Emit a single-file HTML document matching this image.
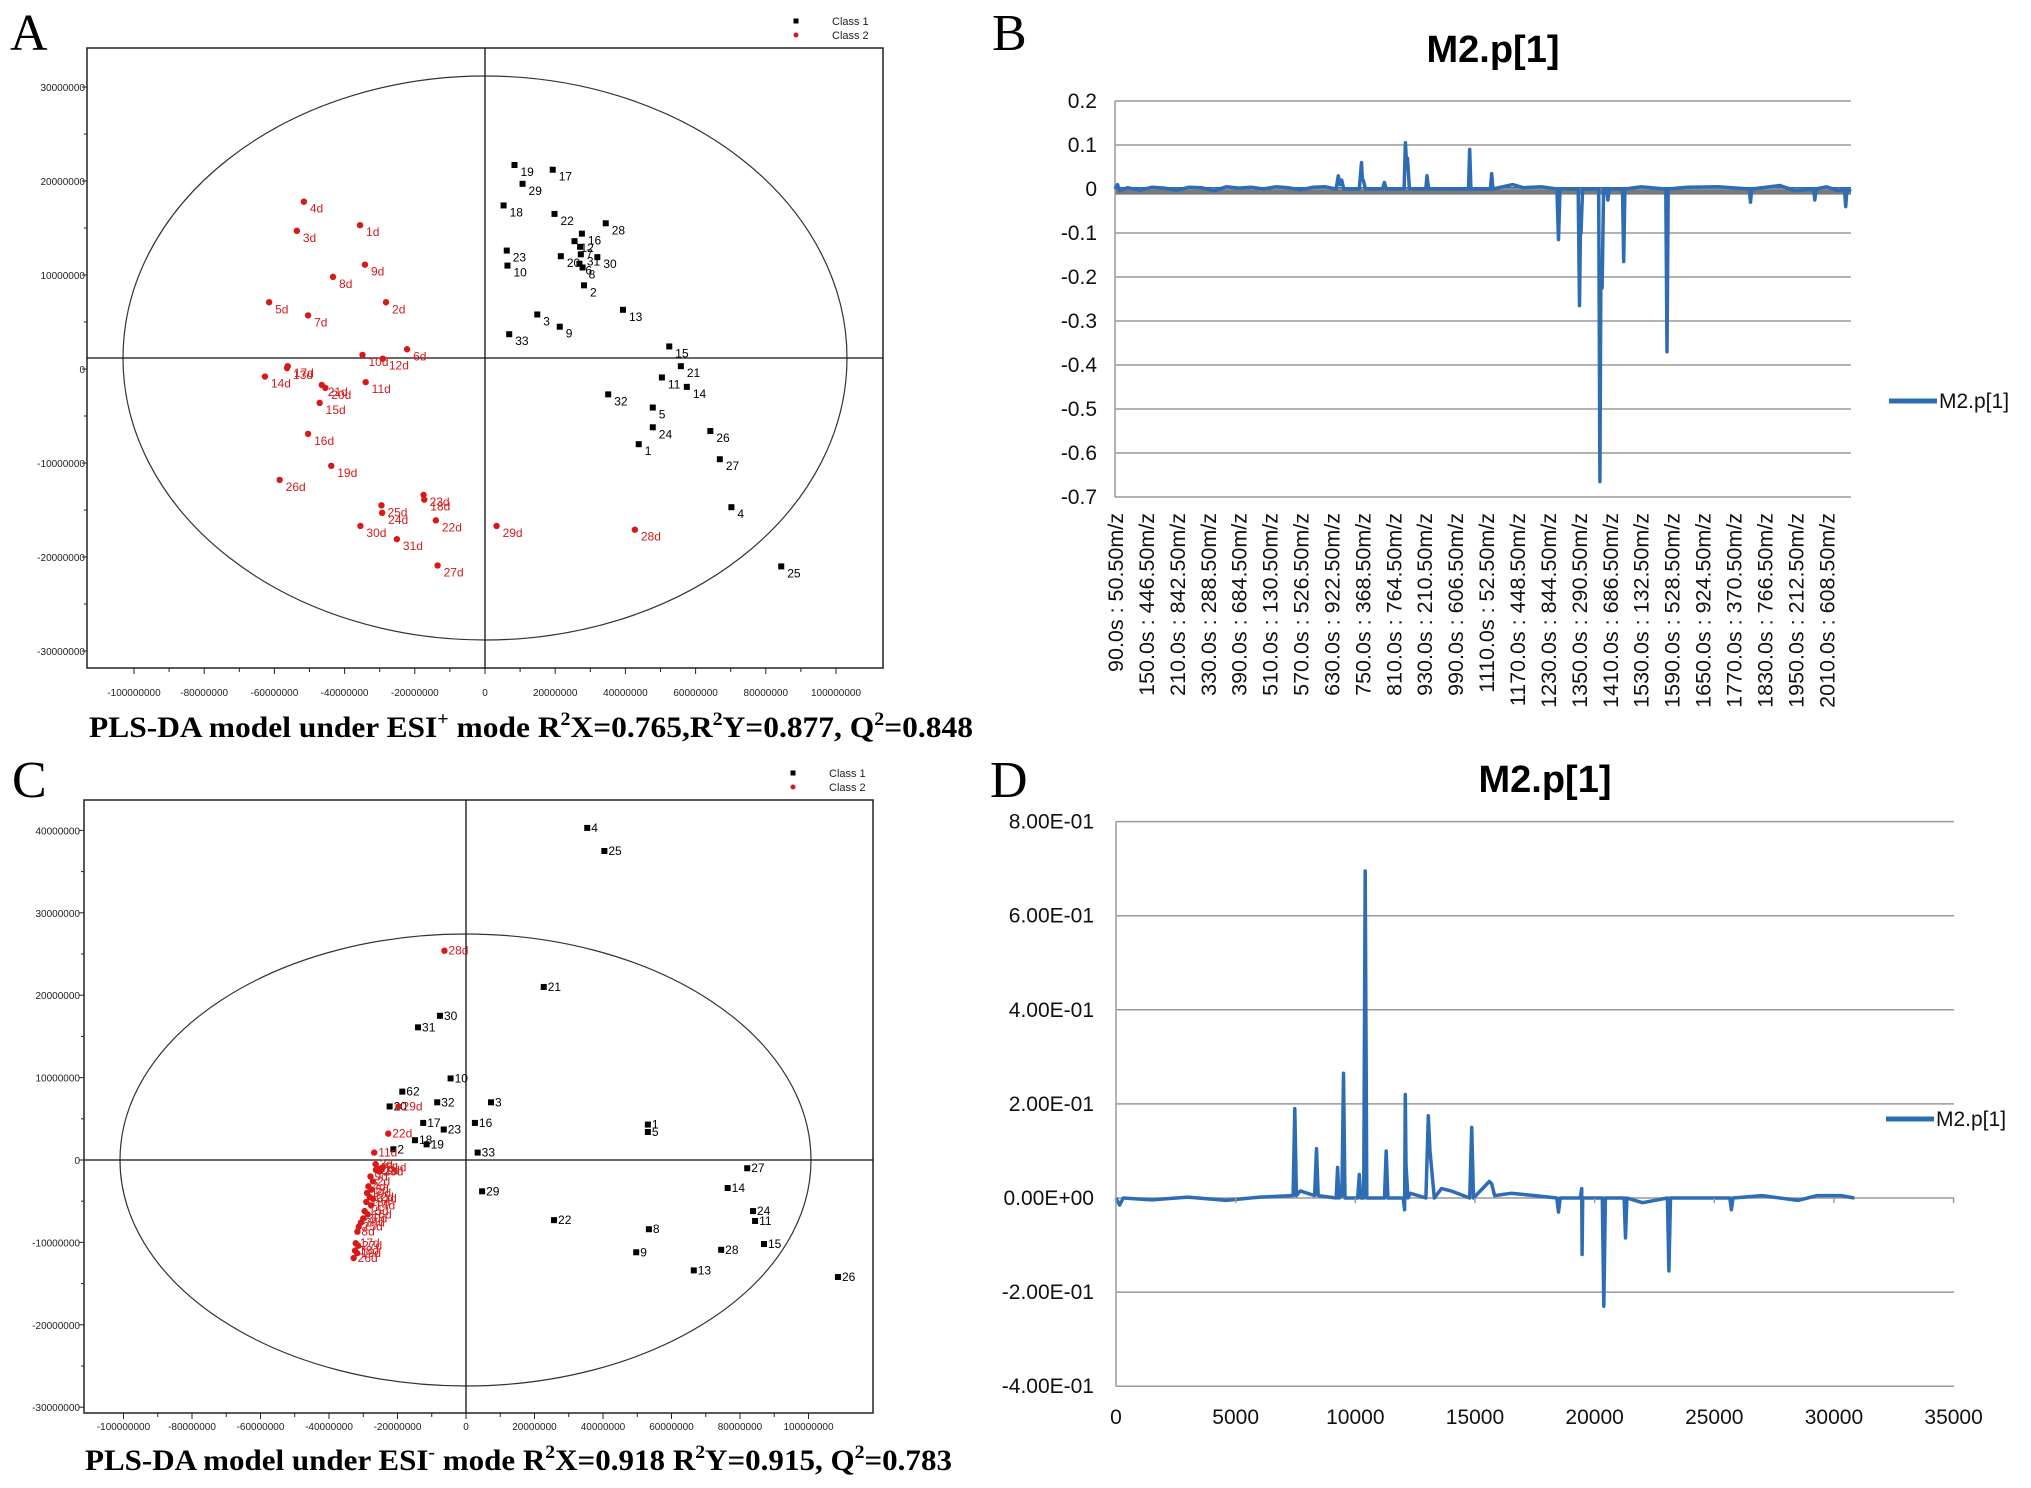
<!DOCTYPE html>
<html><head><meta charset="utf-8"><style>
html,body{margin:0;padding:0;background:#fff;}
svg{display:block;font-family:"Liberation Sans",sans-serif;}
</style></head><body>
<svg id="fig" width="2031" height="1488" viewBox="0 0 2031 1488" xmlns="http://www.w3.org/2000/svg">
<rect width="2031" height="1488" fill="#fff"/>
<g font-family="Liberation Serif, serif" font-size="52">
<text x="10" y="50">A</text>
<text x="992" y="50">B</text>
<text x="12" y="797">C</text>
<text x="990" y="797">D</text>
</g>
<g id="pa"></g>
<g id="pb"></g>
<g id="pc"></g>
<g id="pd"></g>
<text x="89" y="737" font-family="Liberation Serif, serif" font-weight="bold" font-size="30" textLength="884" lengthAdjust="spacingAndGlyphs">PLS-DA model under ESI<tspan font-size="19" dy="-12">+</tspan><tspan dy="12"> mode  R</tspan><tspan font-size="19" dy="-12">2</tspan><tspan dy="12">X=0.765,R</tspan><tspan font-size="19" dy="-12">2</tspan><tspan dy="12">Y=0.877, Q</tspan><tspan font-size="19" dy="-12">2</tspan><tspan dy="12">=0.848</tspan></text>
<text x="85" y="1470" font-family="Liberation Serif, serif" font-weight="bold" font-size="30" textLength="867" lengthAdjust="spacingAndGlyphs">PLS-DA model under ESI<tspan font-size="19" dy="-12">-</tspan><tspan dy="12"> mode R</tspan><tspan font-size="19" dy="-12">2</tspan><tspan dy="12">X=0.918 R</tspan><tspan font-size="19" dy="-12">2</tspan><tspan dy="12">Y=0.915, Q</tspan><tspan font-size="19" dy="-12">2</tspan><tspan dy="12">=0.783</tspan></text>
</svg>
<script>
// ===== Panel A data (millions) =====
const aC1Labels=["19","17","29","18","22","28","16","12","7","31","23","10","20","6","30","8","2","13","3","9","33","15","21","11","14","32","5","24","26","1","27","4","25"];
const aC1X=[8.4,19.3,10.7,5.3,19.8,34.4,27.6,25.5,27.1,27.3,6.2,6.4,21.6,26.9,32.0,27.8,28.2,39.3,14.9,21.3,6.9,52.5,55.8,50.4,57.5,35.1,47.8,47.8,64.2,43.8,66.9,70.2,84.4];
const aC1Y=[21.7,21.2,19.7,17.4,16.5,15.5,14.4,13.6,13.0,12.2,12.6,11.0,12.0,11.2,11.9,10.8,8.9,6.3,5.8,4.5,3.7,2.4,0.3,-0.9,-1.9,-2.7,-4.1,-6.2,-6.6,-8.0,-9.6,-14.7,-21.0];
const aC2Labels=["4d","3d","1d","9d","8d","2d","5d","7d","6d","10d","12d","17d","13d","14d","21d","20d","11d","15d","16d","19d","26d","23d","18d","25d","24d","22d","30d","29d","28d","31d","27d"];
const aC2X=[-51.6,-53.6,-35.6,-34.2,-43.3,-28.2,-61.5,-50.4,-22.2,-34.9,-29.1,-56.2,-56.4,-62.7,-46.5,-45.5,-34.0,-47.1,-50.4,-43.8,-58.5,-17.5,-17.3,-29.5,-29.3,-14.0,-35.5,3.3,42.7,-25.1,-13.5];
const aC2Y=[17.8,14.7,15.3,11.1,9.8,7.1,7.1,5.7,2.1,1.5,1.1,0.3,0.1,-0.8,-1.7,-2.0,-1.4,-3.6,-6.9,-10.3,-11.8,-13.4,-13.9,-14.5,-15.3,-16.1,-16.7,-16.7,-17.1,-18.1,-20.9];
const aXTicks=[-100,-80,-60,-40,-20,0,20,40,60,80,100];
const aYTicks=[30,20,10,0,-10,-20,-30];
// ===== Panel C data (millions) =====
const cC1Labels=["4","25","21","30","31","10","62","32","3","20","17","16","23","18","19","2","33","1","5","27","14","29","24","11","22","8","15","28","9","13","26"];
const cC1X=[35.4,40.4,22.7,-7.6,-14.0,-4.5,-18.6,-8.4,7.3,-22.3,-12.5,2.6,-6.5,-14.9,-11.5,-21.2,3.4,53.1,53.1,82.1,76.4,4.7,83.8,84.4,25.7,53.4,87.0,74.5,49.7,66.5,108.6];
const cC1Y=[40.3,37.5,21.0,17.5,16.1,9.9,8.3,7.0,7.0,6.5,4.5,4.5,3.7,2.4,1.9,1.3,0.9,4.3,3.4,-1.0,-3.4,-3.8,-6.2,-7.4,-7.3,-8.4,-10.2,-10.9,-11.2,-13.4,-14.2];
const cC2Labels=["28d","29d","22d","11d","3d","7d","1d","21d","20d","23d","9d","2d","4d","5d","10d","12d","31d","13d","14d","15d","16d","30d","24d","25d","8d","17d","27d","18d","19d","26d"];
const cC2X=[-6.3,-19.7,-22.7,-26.8,-26.4,-25.9,-25.0,-24.4,-26.3,-25.3,-27.9,-27.2,-28.5,-27.6,-28.9,-28.1,-27.2,-29.1,-27.7,-29.6,-28.7,-30.0,-30.7,-31.3,-31.7,-32.2,-31.5,-32.4,-31.8,-32.8];
const cC2Y=[25.4,6.5,3.2,0.9,-0.5,-1.0,-1.3,-0.9,-1.2,-1.4,-2.0,-2.6,-3.2,-3.6,-4.0,-4.5,-4.7,-5.1,-5.5,-6.2,-6.6,-7.1,-7.6,-8.1,-8.7,-10.1,-10.4,-11.0,-11.3,-11.9];
const cXTicks=[-100,-80,-60,-40,-20,0,20,40,60,80,100];
const cYTicks=[40,30,20,10,0,-10,-20,-30];
// ===== Panel B data (variable index, loading) =====
const bIdx=[0,8,15,40,80,120,160,200,240,280,320,360,400,440,480,520,560,600,640,680,715,722,728,733,740,790,797,800,803,810,865,871,877,935,939,942,946,952,1005,1009,1014,1100,1143,1147,1151,1214,1218,1222,1286,1320,1380,1429,1434,1439,1498,1502,1505,1507,1512,1564,1568,1571,1575,1580,1590,1594,1598,1641,1645,1649,1700,1781,1785,1789,1850,1950,2051,2055,2059,2150,2200,2259,2263,2267,2300,2340,2359,2363,2367,2380];
const bVal=[0.0,0.01,-0.004,0.003,-0.003,0.004,0.002,-0.003,0.004,0.003,-0.004,0.005,0.002,0.004,0.0,0.005,0.003,-0.002,0.004,0.005,0.0,0.03,0.01,0.02,0.0,0.0,0.06,0.02,0.02,0.0,0.0,0.015,0.0,0.0,0.105,0.07,0.07,0.0,0.0,0.03,0.0,0.0,0.0,0.09,0.0,0.0,0.035,0.0,0.01,0.003,0.005,0.0,-0.115,0.0,0.0,-0.265,-0.1,-0.1,0.0,0.0,-0.665,-0.225,-0.225,0.0,0.0,-0.025,0.0,0.0,-0.165,0.0,0.005,0.0,-0.37,0.0,0.004,0.005,0.0,-0.03,0.0,0.008,-0.004,0.0,-0.025,0.0,0.005,-0.004,0.0,-0.04,0.0,-0.005];
const bYTicks=[0.2,0.1,0,-0.1,-0.2,-0.3,-0.4,-0.5,-0.6,-0.7];
const bYTickLabels=["0.2","0.1","0","-0.1","-0.2","-0.3","-0.4","-0.5","-0.6","-0.7"];
const bXLabels=["90.0s : 50.50m/z","150.0s : 446.50m/z","210.0s : 842.50m/z","330.0s : 288.50m/z","390.0s : 684.50m/z","510.0s : 130.50m/z","570.0s : 526.50m/z","630.0s : 922.50m/z","750.0s : 368.50m/z","810.0s : 764.50m/z","930.0s : 210.50m/z","990.0s : 606.50m/z","1110.0s : 52.50m/z","1170.0s : 448.50m/z","1230.0s : 844.50m/z","1350.0s : 290.50m/z","1410.0s : 686.50m/z","1530.0s : 132.50m/z","1590.0s : 528.50m/z","1650.0s : 924.50m/z","1770.0s : 370.50m/z","1830.0s : 766.50m/z","1950.0s : 212.50m/z","2010.0s : 608.50m/z"];
const bN=2380;
// ===== Panel D data =====
const dX=[0,150,300,1500,3000,4600,6000,7400,7473,7540,7700,8300,8379,8450,9200,9258,9320,9440,9505,9570,10100,10165,10230,10350,10412,10480,11220,11291,11360,12000,12060,12088,12120,12200,12300,12950,13049,13120,13300,13600,14000,14780,14863,14940,15600,15700,15820,16500,17500,18420,18489,18560,19400,19460,19478,19500,19560,20320,20384,20450,21230,21291,21350,22000,23040,23104,23170,24000,25650,25714,25780,27000,28500,29300,30300,30851];
const dY=[0,-0.015,0,-0.004,0.002,-0.005,0.002,0.005,0.19,0.005,0.015,0.005,0.105,0.005,0.0,0.065,0.0,0.005,0.265,0.0,0.0,0.05,0.0,0.0,0.695,0.0,0.0,0.1,0.0,0.0,-0.025,0.22,0.07,0.0,0.01,0.0,0.175,0.1,0.0,0.02,0.015,0.0,0.15,0.0,0.035,0.03,0.005,0.01,0.005,0.0,-0.03,0.0,0.0,0.02,-0.12,0.0,0.0,0.0,-0.23,0.0,0.0,-0.085,0.0,-0.01,0.0,-0.155,0.0,0.0,0.0,-0.025,0.0,0.005,-0.005,0.005,0.005,0.0];
const dYTicks=[0.8,0.6,0.4,0.2,0,-0.2,-0.4];
const dYTickLabels=["8.00E-01","6.00E-01","4.00E-01","2.00E-01","0.00E+00","-2.00E-01","-4.00E-01"];
const dXTicks=[0,5000,10000,15000,20000,25000,30000,35000];

const NS="http://www.w3.org/2000/svg";
function mk(parent,tag,attrs,text){const e=document.createElementNS(NS,tag);for(const k in attrs)e.setAttribute(k,attrs[k]);if(text!==undefined)e.textContent=text;parent.appendChild(e);return e;}

function scatter(g,cfg){
  const {box,sx,sy,cross,ell,xt,yt,c1L,c1X,c1Y,c2L,c2X,c2Y,labOff,leg,xLabY,yLabX}=cfg;
  let r=mk(g,'rect',{x:box[0],y:box[1],width:box[2]-box[0],height:box[3]-box[1],fill:'none',stroke:'#222','stroke-width':1.5});
  
  
  let el=mk(g,'ellipse',{cx:ell[0],cy:ell[1],rx:ell[2],ry:ell[3],fill:'none',stroke:'#333','stroke-width':1.2});
  
  
  let l1=mk(g,'line',{x1:box[0],x2:box[2],y1:cross[1],y2:cross[1],stroke:'#111','stroke-width':1.3});
  
  
  let l2=mk(g,'line',{x1:cross[0],x2:cross[0],y1:box[1],y2:box[3],stroke:'#111','stroke-width':1.3});
  
  
  xt.forEach((v,i)=>{
    const x=sx(v);
    mk(g,'line',{x1:x,x2:x,y1:box[3],y2:box[3]+6,stroke:'#222'});
    const x2=sx(v+10);
    if(i<xt.length-1) mk(g,'line',{x1:x2,x2:x2,y1:box[3],y2:box[3]+4,stroke:'#222'});
    const t=mk(g,'text',{x:x,y:xLabY,'font-size':10,'text-anchor':'middle',fill:'#222'},v===0?'0':String(v*1000000));
    
    
  });
  yt.forEach((v,i)=>{
    const y=sy(v);
    mk(g,'line',{x1:box[0]-5,x2:box[0],y1:y,y2:y,stroke:'#222'});
    if(i<yt.length-1){const y2=sy(v-5);mk(g,'line',{x1:box[0]-3,x2:box[0],y1:y2,y2:y2,stroke:'#222'});}
    const t=mk(g,'text',{x:yLabX,y:y+4,'font-size':10,'text-anchor':'end',fill:'#222'},v===0?'0':String(v*1000000));
    
    
  });
  c1X.forEach((v,i)=>{
    const x=sx(v),y=sy(c1Y[i]);
    const p=mk(g,'rect',{x:x-3,y:y-3,width:6,height:6,fill:'#000'});
    
    
    const t=mk(g,'text',{x:x+labOff[0],y:y+labOff[1],'font-size':12,fill:'#000'},c1L[i]);
    
    
  });
  c2X.forEach((v,i)=>{
    const x=sx(v),y=sy(c2Y[i]);
    const p=mk(g,'circle',{cx:x,cy:y,r:3.2,fill:'#d61a1a'});
    
    
    const t=mk(g,'text',{x:x+labOff[0],y:y+labOff[1],'font-size':12,fill:'#d61a1a'},c2L[i]);
    
    
  });
  const lg=mk(g,'g',{});
  
  
  mk(lg,'rect',{x:leg[0]-2.5,y:leg[1]-2.5,width:5,height:5,fill:'#000'});
  let t1=mk(lg,'text',{x:leg[0]+36,y:leg[1]+4,'font-size':11,fill:'#222'},'Class 1');
  
  
  mk(lg,'circle',{cx:leg[0],cy:leg[1]+14,r:2.5,fill:'#d61a1a'});
  let t2=mk(lg,'text',{x:leg[0]+36,y:leg[1]+18,'font-size':11,fill:'#222'},'Class 2');
  
  
}
const ax=v=>485+v*3.51, ay=v=>369-v*9.40;
scatter(document.getElementById('pa'),{box:[87,48,883,668],sx:ax,sy:ay,cross:[485,358],ell:[485,358,362,282],
  xt:aXTicks,yt:aYTicks,c1L:aC1Labels,c1X:aC1X,c1Y:aC1Y,c2L:aC2Labels,c2X:aC2X,c2Y:aC2Y,labOff:[6,11],leg:[796,21],xLabY:696,yLabX:85});
const cx=v=>466+v*3.425, cy=v=>1160-v*8.24;
scatter(document.getElementById('pc'),{box:[84,800,873,1413],sx:cx,sy:cy,cross:[466,1160],ell:[465.5,1160,345.5,226],
  xt:cXTicks,yt:cYTicks,c1L:cC1Labels,c1X:cC1X,c1Y:cC1Y,c2L:cC2Labels,c2X:cC2X,c2Y:cC2Y,labOff:[4,4],leg:[793,773],xLabY:1430,yLabX:80});

function lineChart(g,cfg){
  const {x0,x1,sy,yt,ytl,title,titleY,legY,legX,tickX,lineD,fs,lw}=cfg;
  const tt=mk(g,'text',{x:(x0+x1)/2+10,y:titleY,'font-size':38,'font-weight':'bold','text-anchor':'middle',fill:'#000'},title);
  
  
  yt.forEach((v,i)=>{
    const y=sy(v);
    const gl=mk(g,'line',{x1:x0,x2:x1,y1:y,y2:y,stroke:'#9a9a9a','stroke-width':1.5});
    
    
    const t=mk(g,'text',{x:tickX,y:y+7,'font-size':fs,'text-anchor':'end',fill:'#111'},ytl[i]);
    
    
  });
  const ya=mk(g,'line',{x1:x0,x2:x0,y1:sy(yt[0]),y2:sy(yt[yt.length-1]),stroke:'#9a9a9a','stroke-width':1.5});
  
  
  const p=mk(g,'path',{d:lineD,fill:'none',stroke:'#2e6db4','stroke-width':lw,'stroke-linejoin':'round'});
  
  
  const lg=mk(g,'g',{});
  
  
  mk(lg,'line',{x1:legX,x2:legX+48,y1:legY,y2:legY,stroke:'#2e6db4','stroke-width':5});
  const lt=mk(lg,'text',{x:legX+50,y:legY+7,'font-size':21,fill:'#111'},'M2.p[1]');
  
  
}
// Panel B
const bx=i=>1115+i/bN*736, by=v=>189-v*440;
const gb=document.getElementById('pb');
const band=mk(gb,'line',{x1:bx(0),x2:bx(bN),y1:by(-0.007),y2:by(-0.007),stroke:'#7a7a7a','stroke-width':5});


const blue0=mk(gb,'line',{x1:bx(0),x2:bx(bN),y1:by(0.001),y2:by(0.001),stroke:'#2e6db4','stroke-width':3});


lineChart(gb,{x0:1115,x1:1851,sy:by,yt:bYTicks,ytl:bYTickLabels,title:'M2.p[1]',titleY:62,legY:401,legX:1889,tickX:1097,fs:21,lw:3.5,
  lineD:bIdx.map((v,i)=>(i?'L':'M')+bx(v).toFixed(1)+' '+by(bVal[i]).toFixed(1)).join(' ')});
bXLabels.forEach((s,k)=>{
  const x=bx(k*100)+8;
  const t=mk(gb,'text',{x:x,y:513,'font-size':21.5,'text-anchor':'end',fill:'#111',transform:`rotate(-90 ${x} 513)`},s);
  
  
});
// Panel D
const dxf=v=>1116+v*837.6/35000, dyf=v=>1198-v*470.5;
const gd=document.getElementById('pd');
lineChart(gd,{x0:1116,x1:1954,sy:dyf,yt:dYTicks,ytl:dYTickLabels,title:'M2.p[1]',titleY:792,legY:1119,legX:1886,tickX:1094,fs:21,lw:3.5,
  lineD:dX.map((v,i)=>(i?'L':'M')+dxf(v).toFixed(1)+' '+dyf(dY[i]).toFixed(1)).join(' ')});
dXTicks.forEach(v=>{
  const x=dxf(v);
  mk(gd,'line',{x1:x,x2:x,y1:1198,y2:1203,stroke:'#9a9a9a','stroke-width':1.5});
  const t=mk(gd,'text',{x:x,y:1424,'font-size':21,'text-anchor':'middle',fill:'#111'},String(v));
  
  
});
</script>
</body></html>
